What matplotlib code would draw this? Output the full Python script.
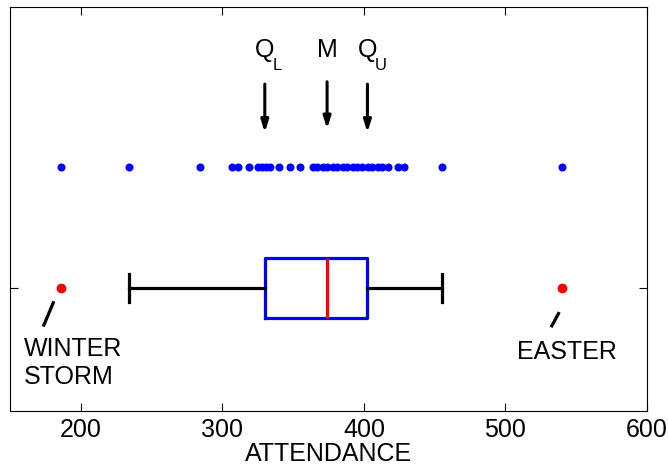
import numpy as np
import matplotlib
matplotlib.use("Agg")
import matplotlib.pyplot as plt

plt.rcParams["font.family"] = ["Liberation Sans", "DejaVu Sans"]

# attendance values
attendance = [186, 234, 284, 307, 311, 319, 325, 328, 331, 334, 340, 348, 355,
              364, 367, 371, 374, 378, 381, 385, 388, 392, 395, 399, 403, 406,
              410, 413, 417, 424, 428, 455, 540]

# box plot summary
q_lower = 330
median = 374
q_upper = 402.5
whisker_lo = 234
whisker_hi = 455
outliers = [186, 540]

x_ticks = [200, 300, 400, 500, 600]
x_lim = (150, 600)

fig = plt.figure(figsize=(6.68, 4.67), dpi=100)
ax = fig.add_axes([10 / 668, 1 - 411 / 467, 637 / 668, 404 / 467])

# dot row
ax.plot(attendance, np.full(len(attendance), 2.0), "o", color="#0000ff",
        ms=5.8, mec="none")

# box plot
stats = [dict(med=median, q1=q_lower, q3=q_upper,
              whislo=whisker_lo, whishi=whisker_hi, fliers=outliers)]
ax.bxp(stats, positions=[1], vert=False, widths=0.5, showfliers=True,
       boxprops=dict(color="#0000ff", lw=2.3),
       medianprops=dict(color="#ff0000", lw=2.3),
       whiskerprops=dict(color="black", lw=2.3),
       capprops=dict(color="black", lw=2.3),
       capwidths=0.23,
       flierprops=dict(marker="o", mfc="#ff0000", mec="#ff0000", ms=6))

# arrows to quartiles and median
for xv, top, tip in [(q_lower, 2.69, 2.29), (median, 2.71, 2.32), (q_upper, 2.69, 2.29)]:
    ax.annotate("", xy=(xv, tip), xytext=(xv, top),
                arrowprops=dict(arrowstyle="-|>,head_length=0.7,head_width=0.22",
                                color="black", lw=2.2, shrinkA=0, shrinkB=0))

fs = 18
ax.text(median, 2.915, "M", ha="center", va="baseline", fontsize=fs)
for xv, sub in [(q_lower, "L"), (q_upper, "U")]:
    ax.text(xv, 2.915, "Q", ha="center", va="baseline", fontsize=fs)
    ax.annotate(sub, xy=(xv, 2.915), xytext=(5.5, -9.5), textcoords="offset points",
                ha="left", va="baseline", fontsize=12)

# outlier notes
ax.plot([181, 173.5], [0.89, 0.68], color="black", lw=2.3, solid_capstyle="butt")
ax.plot([538, 532.3], [0.80, 0.675], color="black", lw=2.3, solid_capstyle="butt")
ax.text(160, 0.438, "WINTER", ha="left", va="baseline", fontsize=fs)
ax.text(160, 0.207, "STORM", ha="left", va="baseline", fontsize=fs)
ax.text(543.5, 0.413, "EASTER", ha="center", va="baseline", fontsize=fs)

ax.set_xlim(*x_lim)
ax.set_ylim(-0.02, 3.33)
ax.set_xticks(x_ticks)
ax.set_xticklabels([str(t) for t in x_ticks], fontsize=fs)
ax.set_yticks([1])
ax.set_yticklabels([""])
ax.tick_params(direction="in", length=6, width=0.8, top=True, right=True, pad=5)
ax.set_xlabel("ATTENDANCE", fontsize=fs, labelpad=0)
for s in ax.spines.values():
    s.set_linewidth(0.8)

fig.savefig("out.png", dpi=100)
